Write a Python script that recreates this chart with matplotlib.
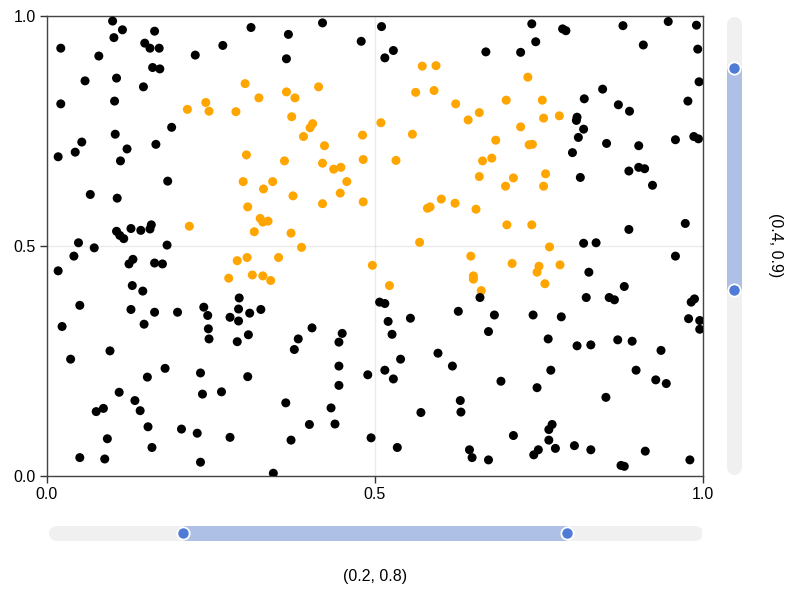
import numpy as np
import matplotlib
matplotlib.use("Agg")
import matplotlib.pyplot as plt

plt.rcParams['font.family'] = ['Liberation Sans', 'DejaVu Sans']

# selected intervals (slider values)
x_interval = (0.2, 0.8)
y_interval = (0.4, 0.9)

# point cloud
xs = [
    0.100, 0.115, 0.102, 0.164, 0.311, 0.021, 0.079, 0.149, 0.157, 0.171,
    0.226, 0.268, 0.161, 0.172, 0.058, 0.106, 0.147, 0.021, 0.103, 0.190,
    0.104, 0.053, 0.043, 0.017, 0.122, 0.166, 0.112, 0.184, 0.066, 0.107,
    0.106, 0.111, 0.117, 0.128, 0.143, 0.157, 0.159, 0.048, 0.072, 0.183,
    0.302, 0.323, 0.242, 0.214, 0.247, 0.288, 0.304, 0.299, 0.330, 0.306,
    0.325, 0.329, 0.337, 0.316, 0.217,
    0.420, 0.368, 0.479, 0.365, 0.510, 0.515, 0.528,
    0.365, 0.378, 0.414, 0.373, 0.405, 0.401, 0.391, 0.423, 0.481, 0.362,
    0.420, 0.437, 0.448, 0.482, 0.344, 0.457, 0.375, 0.447, 0.420, 0.482,
    0.372, 0.388, 0.572, 0.593, 0.562, 0.590, 0.623, 0.642, 0.659, 0.509,
    0.557, 0.532, 0.664, 0.659, 0.601, 0.622, 0.580, 0.584, 0.654, 0.568,
    0.739, 0.786, 0.791, 0.878, 0.947, 0.990, 0.745, 0.669, 0.722, 0.909,
    0.992, 0.994, 0.847, 0.819, 0.977, 0.871, 0.888, 0.808, 0.807, 0.818,
    0.810, 0.853, 0.902, 0.958, 0.986, 0.993, 0.801, 0.887, 0.902, 0.911,
    0.813, 0.923, 0.973, 0.887, 0.818, 0.837,
    0.733, 0.700, 0.755, 0.757, 0.781, 0.722, 0.684, 0.735, 0.740, 0.678,
    0.711, 0.760, 0.699, 0.757, 0.701, 0.739, 0.766,
    0.041, 0.017, 0.125, 0.131, 0.164, 0.176, 0.130, 0.146, 0.050, 0.128,
    0.164, 0.199, 0.239, 0.245, 0.293, 0.292, 0.279, 0.292, 0.309, 0.326,
    0.023, 0.148, 0.246, 0.247, 0.290, 0.307, 0.096, 0.036, 0.180, 0.153,
    0.234, 0.306, 0.110, 0.237, 0.266, 0.134, 0.086, 0.075, 0.142, 0.154,
    0.205, 0.229, 0.279, 0.092, 0.160, 0.050, 0.088, 0.234,
    0.290, 0.305, 0.277, 0.313, 0.329,
    0.353, 0.341, 0.496, 0.522, 0.646, 0.650, 0.650, 0.662,
    0.404, 0.383, 0.377, 0.450, 0.445, 0.445, 0.445, 0.364, 0.433, 0.400,
    0.439, 0.372, 0.345, 0.507, 0.515, 0.520, 0.526, 0.554, 0.539, 0.515,
    0.528, 0.489, 0.596, 0.618, 0.627, 0.660, 0.570, 0.630, 0.631, 0.494,
    0.534, 0.644, 0.648,
    0.709, 0.750, 0.747, 0.782, 0.759,
    0.958, 0.826, 0.880, 0.822, 0.857, 0.865, 0.987, 0.982, 0.682, 0.741,
    0.784, 0.978, 0.995, 0.995, 0.673, 0.764, 0.808, 0.829, 0.870, 0.892,
    0.936, 0.768, 0.898, 0.692, 0.747, 0.928, 0.944, 0.852, 0.770, 0.765,
    0.711, 0.765, 0.775, 0.749, 0.742, 0.804, 0.829, 0.912, 0.673, 0.875,
    0.880, 0.980,
]
ys = [
    0.989, 0.970, 0.953, 0.967, 0.975, 0.930, 0.913, 0.941, 0.930, 0.930,
    0.915, 0.936, 0.888, 0.885, 0.859, 0.865, 0.846, 0.809, 0.815, 0.758,
    0.743, 0.726, 0.704, 0.694, 0.711, 0.721, 0.685, 0.641, 0.612, 0.604,
    0.532, 0.523, 0.516, 0.538, 0.534, 0.537, 0.546, 0.507, 0.496, 0.502,
    0.853, 0.822, 0.812, 0.797, 0.793, 0.792, 0.698, 0.640, 0.624, 0.585,
    0.560, 0.552, 0.554, 0.531, 0.543,
    0.985, 0.960, 0.945, 0.907, 0.977, 0.909, 0.925,
    0.835, 0.822, 0.846, 0.781, 0.766, 0.757, 0.738, 0.718, 0.741, 0.685,
    0.680, 0.667, 0.671, 0.688, 0.640, 0.640, 0.609, 0.615, 0.592, 0.596,
    0.528, 0.497, 0.891, 0.892, 0.834, 0.838, 0.809, 0.774, 0.790, 0.768,
    0.743, 0.686, 0.685, 0.651, 0.602, 0.593, 0.582, 0.585, 0.580, 0.508,
    0.983, 0.972, 0.968, 0.979, 0.988, 0.980, 0.944, 0.922, 0.921, 0.937,
    0.928, 0.857, 0.841, 0.820, 0.815, 0.807, 0.793, 0.780, 0.773, 0.754,
    0.736, 0.723, 0.718, 0.731, 0.738, 0.733, 0.703, 0.663, 0.671, 0.668,
    0.649, 0.632, 0.549, 0.536, 0.506, 0.507,
    0.867, 0.817, 0.817, 0.778, 0.783, 0.759, 0.730, 0.720, 0.721, 0.691,
    0.648, 0.657, 0.630, 0.630, 0.546, 0.546, 0.498,
    0.478, 0.446, 0.461, 0.471, 0.463, 0.461, 0.414, 0.402, 0.371, 0.362,
    0.356, 0.356, 0.367, 0.349, 0.387, 0.363, 0.345, 0.337, 0.354, 0.362,
    0.325, 0.330, 0.320, 0.298, 0.292, 0.307, 0.272, 0.254, 0.234, 0.215,
    0.224, 0.216, 0.182, 0.178, 0.183, 0.164, 0.147, 0.140, 0.142, 0.107,
    0.102, 0.093, 0.084, 0.081, 0.062, 0.040, 0.037, 0.030,
    0.468, 0.475, 0.430, 0.437, 0.435,
    0.475, 0.425, 0.458, 0.414, 0.478, 0.435, 0.428, 0.403,
    0.322, 0.298, 0.275, 0.310, 0.291, 0.239, 0.197, 0.159, 0.148, 0.112,
    0.113, 0.078, 0.006, 0.378, 0.375, 0.336, 0.308, 0.343, 0.254, 0.230,
    0.211, 0.220, 0.267, 0.239, 0.358, 0.388, 0.138, 0.164, 0.139, 0.083,
    0.062, 0.057, 0.040,
    0.462, 0.456, 0.443, 0.459, 0.418,
    0.478, 0.443, 0.412, 0.388, 0.388, 0.383, 0.385, 0.378, 0.350, 0.350,
    0.346, 0.342, 0.338, 0.319, 0.314, 0.298, 0.283, 0.285, 0.296, 0.293,
    0.273, 0.230, 0.230, 0.206, 0.192, 0.209, 0.201, 0.171, 0.112, 0.101,
    0.088, 0.078, 0.060, 0.057, 0.046, 0.066, 0.057, 0.054, 0.035, 0.023,
    0.021, 0.035,
]

xs = np.array(xs)
ys = np.array(ys)
inside = ((xs > x_interval[0]) & (xs < x_interval[1]) &
          (ys > y_interval[0]) & (ys < y_interval[1]))
colors = np.where(inside, '#FFA500', 'black')

W, H = 800, 600
fig = plt.figure(figsize=(8, 6), dpi=100)

# main axis
ax = fig.add_axes([47 / W, 1 - 476 / H, 656 / W, 460 / H])
ax.scatter(xs, ys, c=colors, s=42, linewidths=0, zorder=3)
ax.set_xlim(0, 1)
ax.set_ylim(0, 1)
ax.set_xticks([0, 0.5, 1.0])
ax.set_yticks([0, 0.5, 1.0])
ax.set_xticklabels(['0.0', '0.5', '1.0'])
ax.set_yticklabels(['0.0', '0.5', '1.0'])
ax.grid(True, color='black', alpha=0.08, linewidth=1)
ax.set_axisbelow(True)
ax.tick_params(direction='out', length=5, width=1, color='#333333',
               labelsize=11.5, pad=3)
for s in ax.spines.values():
    s.set_color('#444444')
    s.set_linewidth(1.0)

track = '#f0f0f0'
dimmed = '#aec0e6'
accent = '#4f7ad6'
thick = 15 * 72 / 100  # track thickness in points
pad = 7.5

# horizontal slider
hs = fig.add_axes([48 / W, (H - 533.3 - 10) / H, 654 / W, 20 / H])
hs.set_xlim(-pad / 639, 1 + pad / 639)
hs.set_ylim(-1, 1)
hs.axis('off')
hs.plot([0, 1], [0, 0], color=track, lw=thick, solid_capstyle='round')
hs.plot(x_interval, [0, 0], color=dimmed, lw=thick, solid_capstyle='butt')
hs.scatter(x_interval, [0, 0], s=78, color=accent, edgecolors='white',
           linewidths=1.3, zorder=3)
fig.text(375 / W, 1 - 577 / H, f'({x_interval[0]}, {x_interval[1]})',
         ha='center', va='center', fontsize=11.5)

# vertical slider
vs = fig.add_axes([(734 - 10) / W, 1 - 475 / H, 20 / W, 459 / H])
vs.set_ylim(-8 / 443.3, 1 + 8 / 443.3)
vs.set_xlim(-1, 1)
vs.axis('off')
vs.plot([0, 0], [0, 1], color=track, lw=thick, solid_capstyle='round')
vs.plot([0, 0], y_interval, color=dimmed, lw=thick, solid_capstyle='butt')
vs.scatter([0, 0], y_interval, s=78, color=accent, edgecolors='white',
           linewidths=1.3, zorder=3)
fig.text(775 / W, 1 - 245.5 / H, f'({y_interval[0]}, {y_interval[1]})',
         ha='center', va='center', fontsize=11.5, rotation=270)

fig.savefig('out.png', dpi=100)
